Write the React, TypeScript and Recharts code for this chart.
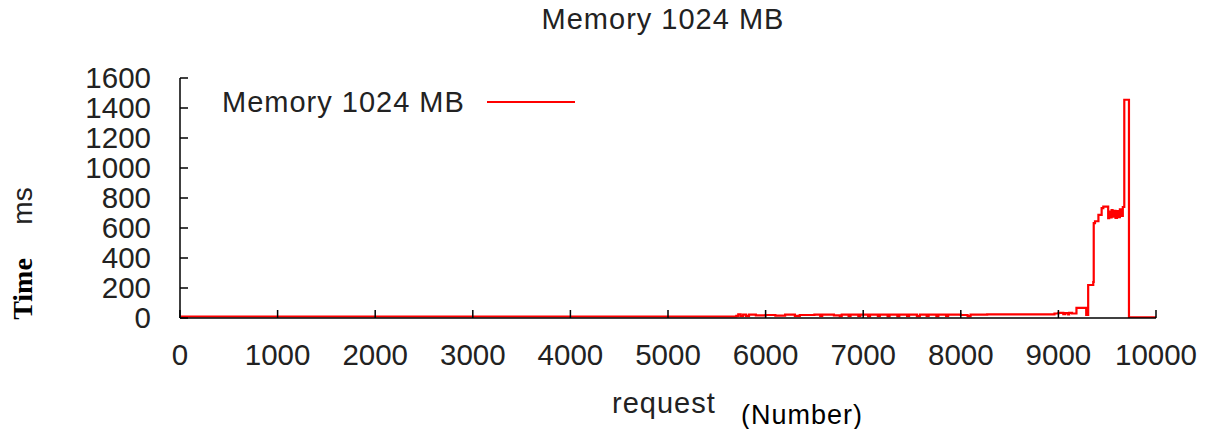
import React from "react";
import { LineChart, Line, XAxis, YAxis, Legend } from "recharts";

const requestIds = [
  0, 5700, 5720, 5745, 5770, 5800, 5830, 5900, 6000, 6100, 6200, 6300, 6350, 6500, 6560, 6580,
  6700, 6760, 6780, 6850, 6870, 6950, 6970, 7050, 7070, 7150, 7170, 7250, 7270, 7350, 7370,
  7450, 7470, 7550, 7580, 7650, 7670, 7750, 7770, 7850, 7870, 8000, 8070, 8100, 8270,
  8960, 9000, 9050, 9070, 9100, 9110, 9140, 9185, 9285, 9305, 9357, 9362, 9375, 9410, 9443,
  9460, 9510, 9520, 9530, 9545, 9555, 9570, 9585, 9600, 9615, 9630, 9645, 9660, 9675, 9723,
  9740, 9780, 9800, 9850, 9870, 9920, 9935, 10000,
];

const memory1024Ms = [
  10, 14, 24, 14, 22, 14, 22, 18, 20, 16, 22, 14, 20, 22, 14, 22,
  18, 12, 22, 14, 22, 14, 22, 12, 22, 14, 22, 12, 22, 12, 22,
  14, 22, 12, 22, 14, 22, 12, 22, 14, 22, 20, 12, 22, 24,
  30, 34, 26, 32, 24, 34, 30, 68, 20, 220, 240, 632, 645, 688, 732,
  742, 665, 710, 670, 720, 675, 715, 668, 712, 672, 725, 680, 740, 1455, 0,
  5, 0, 5, 0, 5, 0, 5, 5,
];

const xTicks = [0, 1000, 2000, 3000, 4000, 5000, 6000, 7000, 8000, 9000, 10000];
const yTicks = [0, 200, 400, 600, 800, 1000, 1200, 1400, 1600];

const seriesName = "Memory 1024 MB";
const chartTitle = "Memory 1024 MB";

const data = requestIds.map((r, i) => ({ request: r, ms: memory1024Ms[i] }));

const SANS = "'Liberation Sans', Arial, sans-serif";
const SERIF = "'Liberation Serif', 'Times New Roman', serif";
const TXT = "#222";

const tickStyle = { fontSize: 29.5, fill: TXT, fontFamily: SANS };

const LegendContent = () => (
  <div style={{ display: "flex", alignItems: "center", fontFamily: SANS, fontSize: 29, color: TXT, lineHeight: "29px", whiteSpace: "nowrap" }}>
    <span style={{ letterSpacing: 1 }}>{seriesName}</span>
    <svg width={88} height={4} style={{ marginLeft: 22, marginTop: -2 }}>
      <line x1={0} y1={2} x2={88} y2={2} stroke="#ff0000" strokeWidth={2} />
    </svg>
  </div>
);

export default function App() {
  return (
    <div style={{ position: "absolute", left: 0, top: 0, width: 1212, height: 429, background: "#fff" }}>
      <LineChart
        width={1212}
        height={429}
        data={data}
        margin={{ top: 78, right: 56, bottom: 81, left: 120 }}
      >
        <XAxis
          xAxisId="bottom"
          dataKey="request"
          type="number"
          domain={[0, 10000]}
          ticks={xTicks}
          interval={0}
          height={30}
          tickSize={-8}
          tickMargin={34}
          tick={tickStyle}
          axisLine={{ stroke: "#000", strokeWidth: 1.5 }}
          tickLine={{ stroke: "#000", strokeWidth: 1.5 }}
          allowDataOverflow
        />
        <XAxis
          xAxisId="top"
          orientation="top"
          dataKey="request"
          type="number"
          domain={[0, 10000]}
          ticks={xTicks}
          interval={0}
          height={0}
          tickSize={-8}
          tick={false}
          axisLine={{ stroke: "#000", strokeWidth: 1.5 }}
          tickLine={{ stroke: "#000", strokeWidth: 1.5 }}
          allowDataOverflow
        />
        <YAxis
          yAxisId="left"
          type="number"
          domain={[0, 1600]}
          ticks={yTicks}
          interval={0}
          width={60}
          tickSize={-8}
          tickMargin={37}
          tick={tickStyle}
          axisLine={{ stroke: "#000", strokeWidth: 1.5 }}
          tickLine={{ stroke: "#000", strokeWidth: 1.5 }}
          allowDataOverflow
        />
        <YAxis
          yAxisId="right"
          orientation="right"
          type="number"
          domain={[0, 1600]}
          ticks={yTicks}
          interval={0}
          width={0}
          tickSize={-8}
          tick={false}
          axisLine={{ stroke: "#000", strokeWidth: 1.5 }}
          tickLine={{ stroke: "#000", strokeWidth: 1.5 }}
          allowDataOverflow
        />
        <Legend
          layout="horizontal"
          verticalAlign="middle"
          align="center"
          content={<LegendContent />}
          wrapperStyle={{ left: 222, top: 88, width: "auto" }}
        />
        <Line
          xAxisId="bottom"
          yAxisId="left"
          name={seriesName}
          dataKey="ms"
          type="stepAfter"
          stroke="#ff0000"
          strokeWidth={2.2}
          dot={false}
          activeDot={false}
          isAnimationActive={false}
        />
        <Line
          xAxisId="top"
          yAxisId="right"
          dataKey="ms"
          stroke="none"
          dot={false}
          activeDot={false}
          legendType="none"
          isAnimationActive={false}
        />
      </LineChart>
      <div style={{ position: "absolute", left: 363, width: 600, top: 5, textAlign: "center", fontFamily: SANS, fontSize: 29, lineHeight: "29px", color: TXT, letterSpacing: 1, whiteSpace: "nowrap" }}>
        {chartTitle}
      </div>
      <div style={{ position: "absolute", left: 612, top: 389, fontFamily: SANS, fontSize: 29, lineHeight: "29px", color: TXT, letterSpacing: 1 }}>
        request
      </div>
      <div style={{ position: "absolute", left: 741, top: 402, fontFamily: SANS, fontSize: 27, lineHeight: "27px", color: "#000", letterSpacing: 1, whiteSpace: "nowrap" }}>
        (Number)
      </div>
      <div style={{ position: "absolute", left: -27, top: 274, width: 100, height: 30, textAlign: "center", fontFamily: SERIF, fontWeight: "bold", fontSize: 28, lineHeight: "30px", color: "#000", transform: "rotate(-90deg)" }}>
        Time
      </div>
      <div style={{ position: "absolute", left: -27, top: 191, width: 100, height: 30, textAlign: "center", fontFamily: SANS, fontSize: 28, lineHeight: "30px", color: TXT, transform: "rotate(-90deg)" }}>
        ms
      </div>
    </div>
  );
}
